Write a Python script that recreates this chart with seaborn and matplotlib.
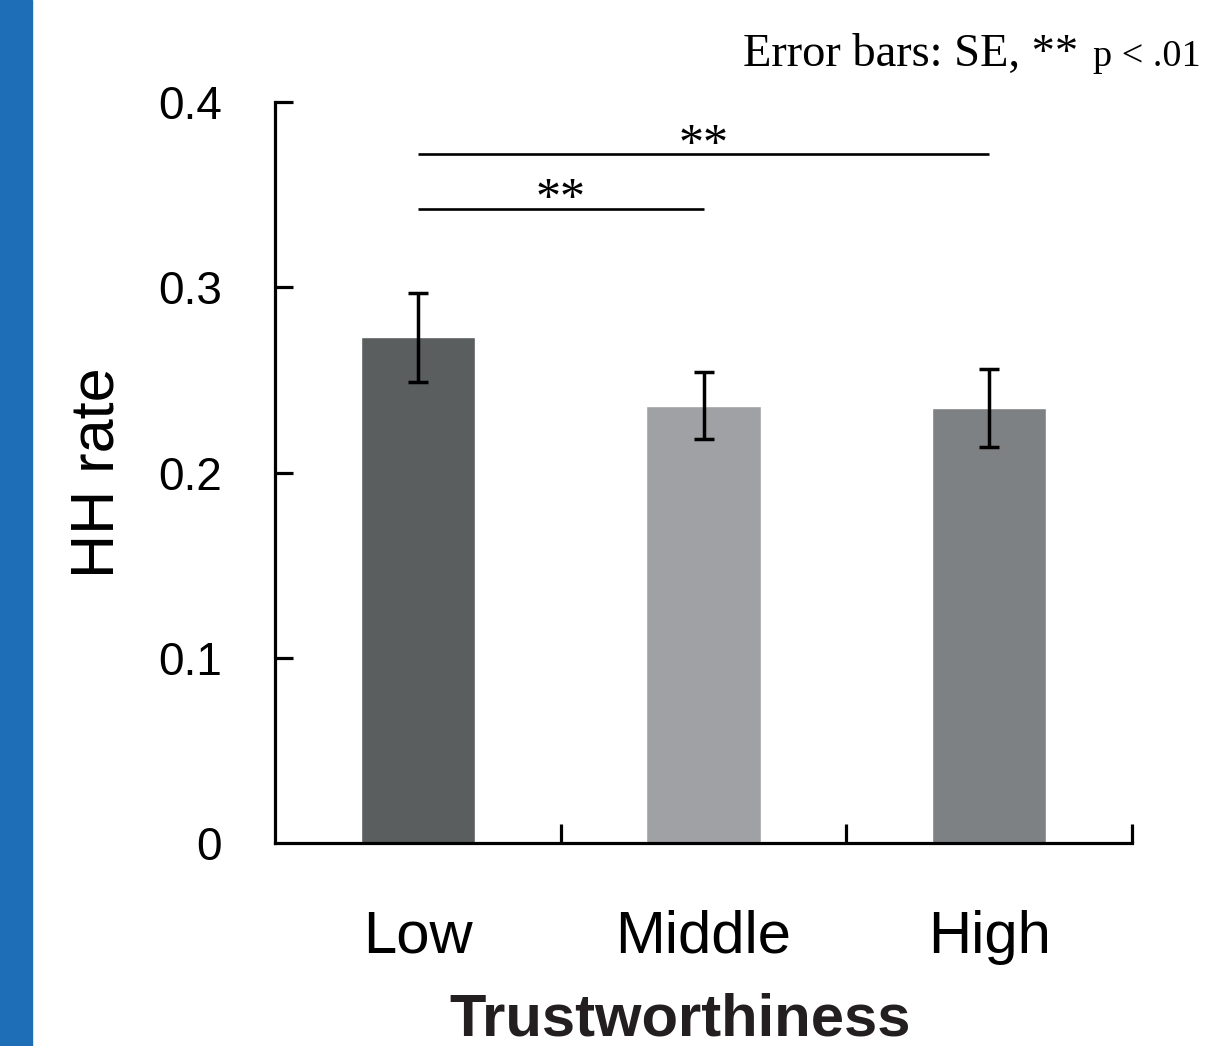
import matplotlib
matplotlib.use('Agg')
import matplotlib.pyplot as plt
import seaborn as sns
from matplotlib.patches import Rectangle

# values
categories = ['Low', 'Middle', 'High']
hh_rate = [0.273, 0.236, 0.235]
hh_se = [0.024, 0.018, 0.021]
bar_colors = ['#5a5e5f', '#a0a1a4', '#7e8183']

# significance brackets: (from category, to category, height)
sig_pairs = [(0, 2, 0.372), (0, 1, 0.3425)]
sig_label = '**'

sns.set_theme(style='white')
plt.rcParams['font.family'] = ['Liberation Sans', 'DejaVu Sans']

fig = plt.figure(figsize=(12.12, 10.46), dpi=100)
ax = fig.add_axes([275 / 1212, 1 - 843 / 1046, (1132 - 275) / 1212, (843 - 102) / 1046])

# blue strip down the left edge
fig.patches.append(Rectangle((0, 0), 32 / 1212, 1, transform=fig.transFigure,
                             color='#1e6eb7', zorder=0))

sns.barplot(x=categories, y=hh_rate, hue=categories, palette=bar_colors,
            width=0.4, legend=False, ax=ax, saturation=1)
ax.errorbar(range(len(categories)), hh_rate, yerr=hh_se, fmt='none', ecolor='black',
            elinewidth=2.5, capsize=7.5, capthick=2.5, zorder=5)

for a, b, h in sig_pairs:
    ax.plot([a, b], [h, h], color='black', lw=1.9, solid_capstyle='butt')
    ax.text((a + b) / 2, h - 0.008, sig_label, ha='center', va='bottom',
            fontsize=36, family='Liberation Serif', color='black')

ax.set_xlim(-0.5, 2.5)
ax.set_ylim(0, 0.4)
ax.set_yticks([0, 0.1, 0.2, 0.3, 0.4])
ax.set_yticklabels(['0', '0.1', '0.2', '0.3', '0.4'])
ax.tick_params(axis='y', left=True, direction='in', length=13, width=2.3, pad=38,
               labelsize=33, color='black', labelcolor='black')
ax.tick_params(axis='x', which='major', length=0, pad=48, labelsize=43, labelcolor='black')
ax.set_xticks([0.5, 1.5, 2.5], minor=True)
ax.tick_params(axis='x', which='minor', bottom=True, direction='in', length=14, width=2.3,
               color='black')
# hide the y tick at zero (sits on the x axis)
ax.yaxis.get_major_ticks()[0].tick1line.set_visible(False)

for side in ['top', 'right']:
    ax.spines[side].set_visible(False)
for side in ['left', 'bottom']:
    ax.spines[side].set_linewidth(2.3)
    ax.spines[side].set_color('black')

ax.set_xlabel('Trustworthiness', fontsize=43, fontweight='bold', color='#231f20', labelpad=20)
ax.xaxis.label.set_x((680 - 275) / 857)
ax.set_ylabel('HH rate', fontsize=44, labelpad=23, color='black')

fig.text(743 / 1212, 1 - 66 / 1046, 'Error bars: SE, **', fontsize=33.5, color='black',
         family='Liberation Serif', va='baseline', ha='left')
fig.text(1093 / 1212, 1 - 66 / 1046, 'p < .01', fontsize=27.5, color='black',
         family='Liberation Serif', va='baseline', ha='left')

fig.savefig('out.png', dpi=100)
